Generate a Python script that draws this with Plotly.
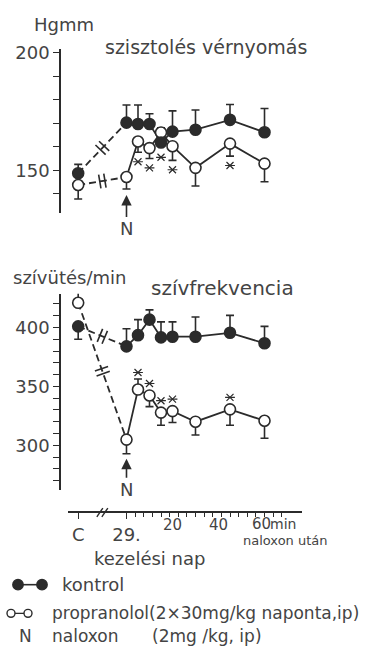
import math
import plotly.graph_objects as go

W, H = 378, 647
INK = "#2b2b2b"
TXT = "#444444"
FONT = "DejaVu Sans"

# ---- data -------------------------------------------------------------
C_POS = -21.0                      # where the control day sits on the time axis
minutes = [5, 10, 15, 20, 30, 45, 60]
x_vals = [C_POS, 0] + minutes      # C, day 29 (naloxon given), minutes after
x_tick_text = ["C", "29."]
minute_labels = [20, 40]

# systolic blood pressure (Hgmm)
bp_kontrol = [148.7, 170.2, 169.6, 169.6, 161.8, 166.4, 167.2, 171.4, 166.1]
bp_kontrol_plus = [3.8, 7.5, 8.1, 4.4, 0, 8.8, 8.4, 6.5, 10.1]
bp_kontrol_minus = [0, 0, 0, 0, 0, 0, 0, 0, 0]
bp_prop = [143.7, 147.1, 162.2, 159.4, 166.0, 160.2, 151.0, 161.3, 152.8]
bp_prop_plus = [0, 0, 0, 0, 2.0, 0, 0, 0, 0]
bp_prop_minus = [5.9, 5.1, 4.6, 4.4, 0, 6.0, 7.7, 5.3, 7.7]
bp_sig = [0, 0, 1, 1, 1, 1, 0, 1, 0]

# heart rate (beats/min)
hr_kontrol = [401.0, 384.0, 393.5, 406.7, 391.6, 392.2, 392.2, 395.5, 386.6]
hr_kontrol_plus = [0, 15.0, 13.2, 8.3, 13.2, 12.6, 16.8, 14.8, 14.4]
hr_kontrol_minus = [11.0, 0, 0, 0, 0, 0, 0, 0, 0]
hr_prop = [421.0, 304.8, 347.3, 342.3, 327.7, 329.0, 320.0, 330.5, 320.8]
hr_prop_plus = [9.0, 0, 9.0, 0, 0, 0, 0, 0, 0]
hr_prop_minus = [0, 12.1, 0, 9.5, 10.7, 9.7, 11.3, 13.5, 14.9]
hr_sig = [0, 0, 1, 1, 1, 1, 0, 1, 0]

# ---- geometry -----------------------------------------------------------
def pxx(x):
    return x / W


def pxy(y):
    return 1 - y / H


X_DOM = [pxx(68), pxx(302)]
X_RNG = [-25.43, 76.30]
BP_DOM = [pxy(208), pxy(42)]
BP_RNG = [131.93, 201.68]
HR_DOM = [pxy(488), pxy(290)]
HR_RNG = [262.2, 428.6]
X_AXIS_Y = pxy(511)
Y_AXIS_X = pxx(60)


def sx():
    return (X_DOM[1] - X_DOM[0]) * W / (X_RNG[1] - X_RNG[0])


def sy(dom, rng):
    return (dom[1] - dom[0]) * H / (rng[1] - rng[0])


def x_to_px(t):
    return X_DOM[0] * W + (t - X_RNG[0]) * sx()


MARK = 11
fig = go.Figure()


def add_series(vals, xa, ya):
    fig.add_trace(go.Scatter(x=x_vals[:2], y=vals[:2], mode="lines",
                             line=dict(color=INK, width=1.8, dash="7px,4px"),
                             xaxis=xa, yaxis=ya, hoverinfo="skip"))
    fig.add_trace(go.Scatter(x=x_vals[1:], y=vals[1:], mode="lines",
                             line=dict(color=INK, width=1.8),
                             xaxis=xa, yaxis=ya, hoverinfo="skip"))


def add_markers(vals, plus, minus, filled, xa, ya):
    fig.add_trace(go.Scatter(
        x=x_vals, y=vals, mode="markers", xaxis=xa, yaxis=ya,
        marker=dict(size=MARK, symbol="circle",
                    color=INK if filled else "white",
                    line=dict(color=INK, width=1.6)),
        error_y=dict(type="data", symmetric=False, array=plus, arrayminus=minus,
                     color=INK, thickness=1.6, width=4),
    ))


def break_marks(vals, dom, rng, xa, ya):
    # two short strokes across the dashed C -> day 29 link
    ys = sy(dom, rng)
    dxp = (x_vals[1] - x_vals[0]) * sx()
    dyp = -(vals[1] - vals[0]) * ys
    ang = math.degrees(math.atan2(dyp, dxp))
    L = math.hypot(dxp, dyp)
    xm = (x_vals[0] + x_vals[1]) / 2
    vm = (vals[0] + vals[1]) / 2
    xs, vs = [], []
    for d in (-2.6, 2.6):
        xs.append(xm + d * dxp / L / sx())
        vs.append(vm - d * dyp / L / ys)
    fig.add_trace(go.Scatter(x=xs, y=vs, mode="markers", xaxis=xa, yaxis=ya,
                             marker=dict(symbol="line-ns-open", size=10, angle=ang,
                                         color=INK,
                                         line=dict(color=INK, width=1.6)),
                             hoverinfo="skip"))


def stars(xs, ys, xa, ya):
    for sym in ("x-thin-open", "line-ew-open"):
        fig.add_trace(go.Scatter(x=xs, y=ys, mode="markers", xaxis=xa, yaxis=ya,
                                 marker=dict(symbol=sym, size=7, color=INK,
                                             line=dict(color=INK, width=1.2)),
                                 hoverinfo="skip"))


# systolic pressure panel
for vals in (bp_prop, bp_kontrol):
    add_series(vals, "x2", "y2")
for vals in (bp_prop, bp_kontrol):
    break_marks(vals, BP_DOM, BP_RNG, "x2", "y2")
add_markers(bp_prop, bp_prop_plus, bp_prop_minus, False, "x2", "y2")
add_markers(bp_kontrol, bp_kontrol_plus, bp_kontrol_minus, True, "x2", "y2")

r_bp = (MARK / 2) / sy(BP_DOM, BP_RNG)
sx_bp, sy_bp = [], []
for i, s in enumerate(bp_sig):
    if s:
        low_p = bp_prop[i] - (bp_prop_minus[i] if bp_prop_minus[i] else r_bp)
        low_k = bp_kontrol[i] - (bp_kontrol_minus[i] if bp_kontrol_minus[i] else r_bp)
        sx_bp.append(x_vals[i])
        sy_bp.append(min(low_p, low_k) - 4.0)
stars(sx_bp, sy_bp, "x2", "y2")

# heart rate panel
for vals in (hr_prop, hr_kontrol):
    add_series(vals, "x", "y")
for vals in (hr_prop, hr_kontrol):
    break_marks(vals, HR_DOM, HR_RNG, "x", "y")
add_markers(hr_kontrol, hr_kontrol_plus, hr_kontrol_minus, True, "x", "y")
add_markers(hr_prop, hr_prop_plus, hr_prop_minus, False, "x", "y")

r_hr = (MARK / 2) / sy(HR_DOM, HR_RNG)
sx_hr, sy_hr = [], []
for i, s in enumerate(hr_sig):
    if s:
        top = hr_prop[i] + (hr_prop_plus[i] if hr_prop_plus[i] else r_hr)
        sx_hr.append(x_vals[i])
        sy_hr.append(top + 5.5)
stars(sx_hr, sy_hr, "x", "y")

# ---- axes ---------------------------------------------------------------
yfont = dict(family=FONT, size=18, color=TXT)
bp_ticks = list(range(140, 201, 10))
hr_ticks = list(range(270, 421, 10))
minor_vals = [3.75 * k for k in range(1, 19)]

fig.update_layout(
    width=W, height=H,
    margin=dict(l=0, r=0, t=0, b=0),
    paper_bgcolor="white", plot_bgcolor="white",
    showlegend=False,
    font=dict(family=FONT, color=TXT),
    xaxis=dict(domain=X_DOM, range=X_RNG, anchor="free", position=X_AXIS_Y,
               showline=True, linecolor=INK, linewidth=1.6, showgrid=False,
               zeroline=False, ticks="outside", ticklen=6, tickwidth=1.4,
               tickcolor=INK, tickvals=x_vals[:2], ticktext=x_tick_text,
               tickfont=dict(family=FONT, size=18, color=TXT),
               minor=dict(tickvals=minor_vals, ticks="outside", ticklen=4,
                          tickwidth=1.2, tickcolor=INK, showgrid=False)),
    yaxis=dict(domain=HR_DOM, range=HR_RNG, anchor="free", position=Y_AXIS_X,
               showline=True, linecolor=INK, linewidth=1.6, showgrid=False,
               zeroline=False, ticks="outside", ticklen=6, tickwidth=1.4,
               tickcolor=INK, tickvals=hr_ticks,
               ticktext=[str(v) if v % 50 == 0 else "" for v in hr_ticks],
               tickfont=yfont),
    xaxis2=dict(domain=X_DOM, range=X_RNG, anchor="y2", matches="x",
                visible=False),
    yaxis2=dict(domain=BP_DOM, range=BP_RNG, anchor="free", position=Y_AXIS_X,
                showline=True, linecolor=INK, linewidth=1.6, showgrid=False,
                zeroline=False, ticks="outside", ticklen=6, tickwidth=1.4,
                tickcolor=INK, tickvals=bp_ticks,
                ticktext=[str(v) if v % 50 == 0 else "" for v in bp_ticks],
                tickfont=yfont),
)

# ---- text ---------------------------------------------------------------
ann = []


def text(x, y, s, size=17, xanchor="center"):
    ann.append(dict(x=pxx(x), y=pxy(y), xref="paper", yref="paper", text=s,
                    showarrow=False, xanchor=xanchor, yanchor="middle",
                    font=dict(family=FONT, size=size, color=TXT)))


text(64, 18, "Hgmm", size=18)
text(206, 40, "szisztolés vérnyomás", size=19)
text(69, 273, "szívütés/min", size=18)
text(222, 284, "szívfrekvencia", size=20)

for m in minute_labels:
    text(x_to_px(m), 524, str(m), size=15)
text(250, 523, "60", size=15, xanchor="left")
text(268, 523, "min", size=14, xanchor="left")
text(285, 539, "naloxon után", size=13)
text(149, 558, "kezelési nap", size=18)

# naloxon arrows
for vals, minus, dom, rng, xa, ya, gap_px, ay in (
        (bp_prop, bp_prop_minus, BP_DOM, BP_RNG, "x2", "y2", 6, 34),
        (hr_prop, hr_prop_minus, HR_DOM, HR_RNG, "x", "y", 5, 31)):
    head = vals[1] - minus[1] - gap_px / sy(dom, rng)
    ann.append(dict(x=x_vals[1], y=head, xref=xa, yref=ya, text="N",
                    showarrow=True, ax=0, ay=ay, arrowhead=2, arrowsize=1.3,
                    arrowwidth=1.6, arrowcolor=INK,
                    font=dict(family=FONT, size=18, color=TXT)))

# legend rows
text(60, 584, "kontrol", size=18, xanchor="left")
text(50, 613, "propranolol(2×30mg/kg naponta,ip)", size=17, xanchor="left")
text(25, 636, "N", size=17)
text(50, 636, "naloxon", size=17, xanchor="left")
text(150, 636, "(2mg /kg, ip)", size=17, xanchor="left")
fig.update_layout(annotations=ann)

shapes = []


def circle(cx, cy, r, filled):
    shapes.append(dict(type="circle", xref="paper", yref="paper",
                       x0=pxx(cx - r), x1=pxx(cx + r), y0=pxy(cy + r), y1=pxy(cy - r),
                       fillcolor=INK if filled else "white",
                       line=dict(color=INK, width=1.4)))


def seg(x0, y0, x1, y1, w=1.6):
    shapes.append(dict(type="line", xref="paper", yref="paper",
                       x0=pxx(x0), x1=pxx(x1), y0=pxy(y0), y1=pxy(y1),
                       line=dict(color=INK, width=w)))


seg(18, 584, 42, 584)
circle(18, 584, 5.2, True)
circle(42, 584, 5.2, True)
seg(11, 613, 28, 613, 1.3)
circle(11, 613, 4.0, False)
circle(28, 613, 4.0, False)

# axis break on the time axis
bx = x_to_px((x_vals[0] + x_vals[1]) / 2)
for off in (-2.5, 2.5):
    seg(bx + off - 3, 511 + 4.5, bx + off + 3, 511 - 4.5, 1.4)

fig.update_layout(shapes=shapes)
fig.write_html("out.html")
